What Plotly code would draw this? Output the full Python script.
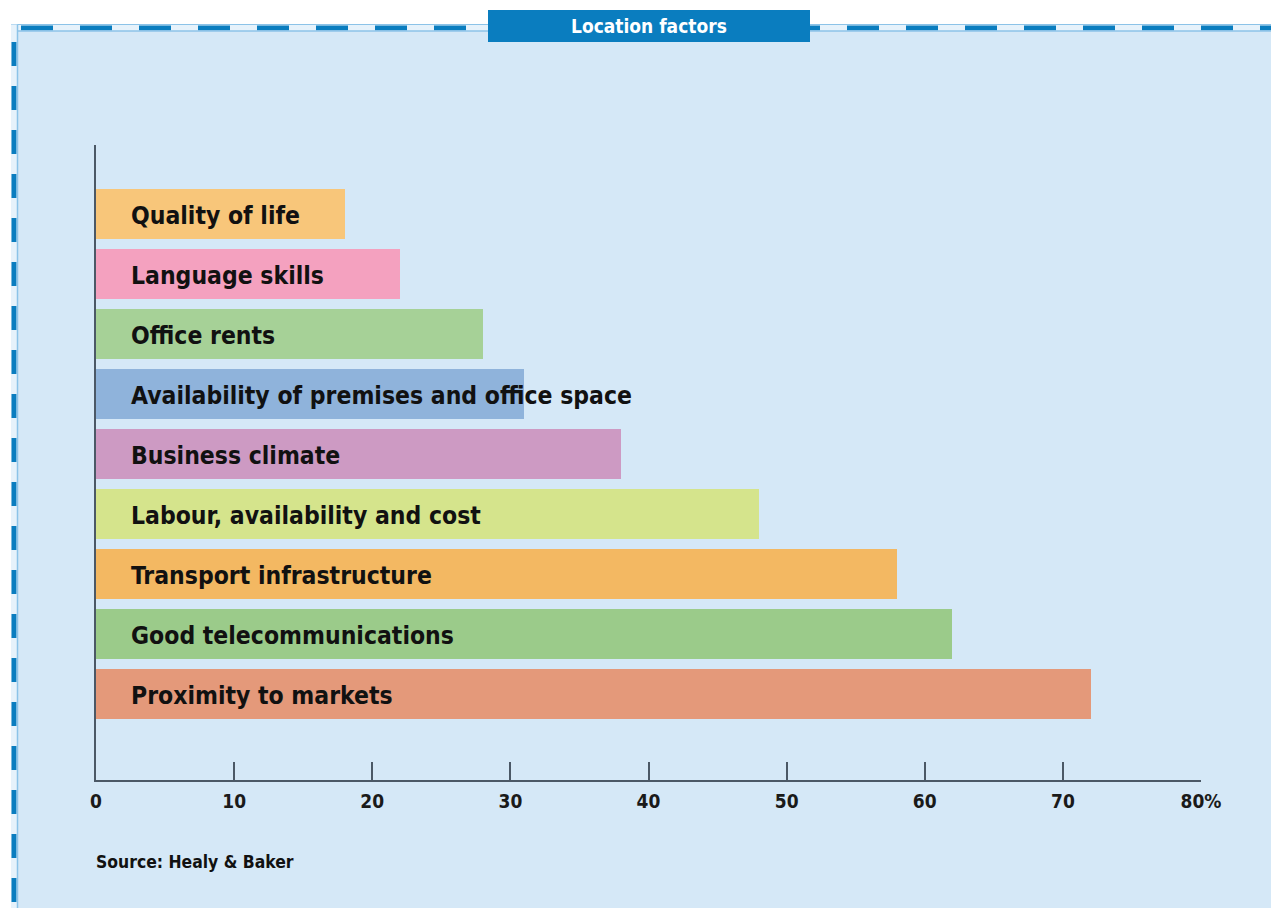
import plotly.graph_objects as go

categories = [
    "Quality of life",
    "Language skills",
    "Office rents",
    "Availability of premises and office space",
    "Business climate",
    "Labour, availability and cost",
    "Transport infrastructure",
    "Good telecommunications",
    "Proximity to markets",
]
values = [18, 22, 28, 31, 38, 48, 58, 62, 72]
bar_colors = ["#F8C67A", "#F4A1BF", "#A6D197", "#8FB3DB", "#CD9AC3",
              "#D5E48C", "#F3B862", "#9BCB8A", "#E4997A"]
tick_vals = [0, 10, 20, 30, 40, 50, 60, 70, 80]
tick_text = ["0", "10", "20", "30", "40", "50", "60", "70", "80%"]
title_text = "Location factors"
source_text = "Source: Healy & Baker"

W, H = 1271, 908
L, R, T, B = 96, 1201, 145, 780  # plot area in pixels

def px(x):
    return (x - L) / (R - L)

def py(y):
    return (B - y) / (B - T)

FONT = "Liberation Sans Narrow, DejaVu Sans Condensed, Arial Narrow, sans-serif"
PANEL = "#D5E8F7"
DARKBLUE = "#0A7DBF"
MIDBLUE = "#8CC3E8"
AXIS = "#4B5866"

ypos = list(range(len(categories)))

fig = go.Figure()
fig.add_trace(go.Bar(
    x=values, y=ypos, orientation="h",
    marker=dict(color=bar_colors, line=dict(width=0)),
    width=50 / 60, hoverinfo="skip", showlegend=False,
))

annotations = []
for i, c in enumerate(categories):
    annotations.append(dict(
        x=0, y=ypos[i], xref="x", yref="y", text=c, showarrow=False,
        xanchor="left", yanchor="middle", xshift=33, yshift=-1,
        font=dict(family=FONT, size=24.5, color="#111111", weight="bold"),
    ))
annotations.append(dict(
    x=px(649), y=py(26), xref="paper", yref="paper", text=title_text,
    showarrow=False, xanchor="center", yanchor="middle",
    font=dict(family=FONT, size=19, color="white", weight="bold"),
))
annotations.append(dict(
    x=0, y=py(862), xref="paper", yref="paper", text=source_text,
    showarrow=False, xanchor="left", yanchor="middle", xshift=-2,
    font=dict(family=FONT, size=17.4, color="#111111", weight="bold"),
))

shapes = [
    # panel background
    dict(type="rect", xref="paper", yref="paper", layer="below",
         x0=px(18), x1=px(W + 5), y0=py(H + 5), y1=py(31),
         fillcolor=PANEL, line=dict(width=0)),
    # top strip
    dict(type="rect", xref="paper", yref="paper", layer="below",
         x0=px(11), x1=px(W + 5), y0=py(31), y1=py(24.5),
         fillcolor="#E6F2FB", line=dict(width=0)),
    dict(type="line", xref="paper", yref="paper", layer="below",
         x0=px(11), x1=px(W + 5), y0=py(24.5), y1=py(24.5),
         line=dict(color=MIDBLUE, width=1)),
    dict(type="line", xref="paper", yref="paper", layer="below",
         x0=px(21), x1=px(W + 5), y0=py(28), y1=py(28),
         line=dict(color=DARKBLUE, width=5, dash="32px,27px")),
    dict(type="line", xref="paper", yref="paper", layer="below",
         x0=px(17), x1=px(W + 5), y0=py(31), y1=py(31),
         line=dict(color=MIDBLUE, width=1.5)),
    # left strip
    dict(type="rect", xref="paper", yref="paper", layer="below",
         x0=px(11), x1=px(17.5), y0=py(H + 5), y1=py(24.5),
         fillcolor="#E6F2FB", line=dict(width=0)),
    dict(type="line", xref="paper", yref="paper", layer="below",
         x0=px(14), x1=px(14), y0=py(42), y1=py(H + 5),
         line=dict(color=DARKBLUE, width=5, dash="24px,20px")),
    dict(type="line", xref="paper", yref="paper", layer="below",
         x0=px(17.5), x1=px(17.5), y0=py(24.5), y1=py(H + 5),
         line=dict(color=MIDBLUE, width=1.5)),
    # title box
    dict(type="rect", xref="paper", yref="paper", layer="above",
         x0=px(488), x1=px(810), y0=py(42), y1=py(10),
         fillcolor=DARKBLUE, line=dict(width=0)),
]

fig.update_layout(
    width=W, height=H,
    margin=dict(l=L, r=W - R, t=T, b=H - B, pad=0),
    paper_bgcolor="white",
    plot_bgcolor=PANEL,
    showlegend=False,
    bargap=0,
    annotations=annotations,
    shapes=shapes,
    xaxis=dict(
        range=[0, 80], tickmode="array", tickvals=tick_vals, ticktext=tick_text,
        ticks="inside", ticklen=18, tickwidth=2, tickcolor=AXIS,
        showline=True, linecolor=AXIS, linewidth=2, showgrid=False,
        zeroline=False, fixedrange=True,
        tickfont=dict(family=FONT, size=19, color="#1A1A1A", weight="bold"),
        ticklabelstandoff=3,
    ),
    yaxis=dict(
        range=[9.43, -1.15], showticklabels=False, ticks="",
        showline=True, linecolor=AXIS, linewidth=2, showgrid=False,
        zeroline=False, fixedrange=True,
    ),
)

fig.write_html("out.html")
